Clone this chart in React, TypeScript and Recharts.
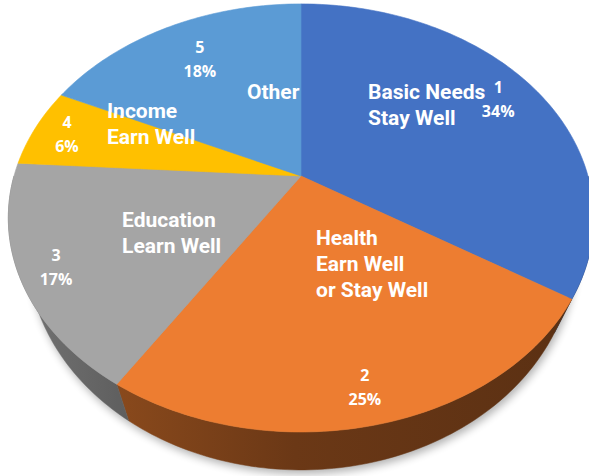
import React from 'react'
import { PieChart, Pie } from 'recharts'

const CATEGORIES = ['Basic Needs', 'Health', 'Education', 'Income', 'Other']
const SUBTITLES = [['Stay Well'], ['Earn Well', 'or Stay Well'], ['Learn Well'], ['Earn Well'], []]
const RANKS = [1, 2, 3, 4, 5]
const SHARES = [34, 25, 17, 6, 18]
const COLORS = ['#4472C4', '#ED7D31', '#A5A5A5', '#FFC000', '#5B9BD5']

// where the labels sit: fraction of the rim radius, and degrees away from the slice middle
const NAME_POS = [
  { r: 0.476, d: 29.2 },
  { r: 0.318, d: -3.7 },
  { r: 0.64, d: -5.3 },
  { r: 0.775, d: -8.2 },
  { r: 0.452, d: -5.7 },
]
const VALUE_POS = [
  { r: 0.865, d: 1.6 },
  { r: 0.854, d: 0 },
  { r: 0.877, d: -1.2 },
  { r: 0.889, d: -1.6 },
  { r: 0.786, d: -1.9 },
]

const W = 589
const H = 476
const RX = 287
const RY = 205.8
const PERSP = 0.196
const DEPTH = 30.5
const SHRINK = 0.065 // bottom rim is further away, so a bit narrower
const RAD = Math.PI / 180

const rows = CATEGORIES.map((name, i) => ({ name, value: SHARES[i], rank: RANKS[i] }))

// tilted disc seen in perspective; deg is the recharts angle
function project(cx: number, cy: number, r: number, deg: number) {
  const X = r * Math.cos(deg * RAD)
  const Z = r * Math.sin(deg * RAD)
  const s = 1 + PERSP * Z
  return { x: cx + (RX * X) / s, y: cy - (RY * Z) / s, drop: DEPTH / s }
}

function rim(cx: number, cy: number, from: number, to: number, lower = false) {
  const n = Math.max(2, Math.ceil(Math.abs(to - from)))
  const pts: string[] = []
  for (let i = 0; i <= n; i++) {
    const p = project(cx, cy, 1, from + ((to - from) * i) / n)
    const x = lower ? cx + (p.x - cx) * (1 - SHRINK) : p.x
    const y = lower ? p.y + p.drop : p.y
    pts.push(`${x.toFixed(2)},${y.toFixed(2)}`)
  }
  return pts
}

function shade(hex: string, f: number) {
  const n = parseInt(hex.slice(1), 16)
  const c = [(n >> 16) & 255, (n >> 8) & 255, n & 255].map((v) => Math.round(v * f))
  return `rgb(${c[0]},${c[1]},${c[2]})`
}

function renderSide(props: any) {
  const { cx, cy, startAngle, endAngle, index } = props
  const hi = Math.min(Math.max(startAngle, endAngle), 0)
  const lo = Math.max(Math.min(startAngle, endAngle), -180)
  const color = COLORS[index]
  const id = `side-${index}`
  let shadow = null
  if (index === 0) {
    const all = rim(cx, cy, 0, 360, true)
    shadow = (
      <g>
        <defs>
          <filter id="pie-shadow" x="-20%" y="-20%" width="140%" height="140%">
            <feGaussianBlur stdDeviation="4" />
          </filter>
        </defs>
        <path
          d={`M${all.join('L')}Z`}
          transform="translate(2,4)"
          fill="#000"
          opacity={0.3}
          filter="url(#pie-shadow)"
        />
      </g>
    )
  }
  if (hi <= lo) return <g>{shadow}</g>
  const top = rim(cx, cy, hi, lo)
  const bottom = rim(cx, cy, lo, hi, true)
  return (
    <g>
      {shadow}
      <defs>
        <linearGradient id={id} gradientUnits="userSpaceOnUse" x1={0} y1={0} x2={W} y2={0}>
          <stop offset="0" stopColor={shade(color, 0.72)} />
          <stop offset="0.2" stopColor={shade(color, 0.58)} />
          <stop offset="0.5" stopColor={shade(color, 0.45)} />
          <stop offset="1" stopColor={shade(color, 0.38)} />
        </linearGradient>
      </defs>
      <path d={`M${top.join('L')}L${bottom.join('L')}Z`} fill={`url(#${id})`} stroke={`url(#${id})`} strokeWidth={0.5} />
    </g>
  )
}

function renderTop(props: any) {
  const { cx, cy, startAngle, endAngle, index } = props
  const pts = rim(cx, cy, startAngle, endAngle)
  return (
    <path
      d={`M${cx},${cy}L${pts.join('L')}Z`}
      fill={COLORS[index]}
      stroke={COLORS[index]}
      strokeWidth={0.6}
      strokeLinejoin="round"
    />
  )
}

function renderText(props: any) {
  const { cx, cy, midAngle, percent, index } = props
  const np = project(cx, cy, NAME_POS[index].r, midAngle + NAME_POS[index].d)
  const vp = project(cx, cy, VALUE_POS[index].r, midAngle + VALUE_POS[index].d)
  const lines = [CATEGORIES[index], ...SUBTITLES[index]]
  return (
    <g>
      <text
        x={np.x}
        y={np.y}
        fill="#fff"
        textAnchor="start"
        style={{ fontFamily: 'Roboto, sans-serif', fontWeight: 700, fontSize: 21 }}
      >
        {lines.map((line, i) => (
          <tspan key={i} x={np.x} dy={i === 0 ? 0 : 26}>
            {line}
          </tspan>
        ))}
      </text>
      <text
        x={vp.x}
        y={vp.y}
        fill="#fff"
        textAnchor="middle"
        style={{ fontFamily: '"Open Sans", sans-serif', fontWeight: 700, fontSize: 16 }}
      >
        <tspan x={vp.x} dy={0}>
          {RANKS[index]}
        </tspan>
        <tspan x={vp.x} dy={24}>
          {`${Math.round(percent * 100)}%`}
        </tspan>
      </text>
    </g>
  )
}

const pieProps = {
  data: rows,
  dataKey: 'value',
  nameKey: 'name',
  cx: 301,
  cy: 176,
  outerRadius: 200,
  startAngle: 90,
  endAngle: -270,
  fill: 'transparent',
  stroke: 'none',
  labelLine: false,
  isAnimationActive: false,
}

export default function App() {
  return (
    <div style={{ position: 'fixed', left: 0, top: 0, width: W, height: H, background: '#fff' }}>
      <PieChart width={W} height={H} margin={{ top: 0, right: 0, bottom: 0, left: 0 }}>
        <Pie {...pieProps} label={renderSide} />
        <Pie {...pieProps} label={renderTop} />
        <Pie {...pieProps} label={renderText} />
      </PieChart>
    </div>
  )
}
